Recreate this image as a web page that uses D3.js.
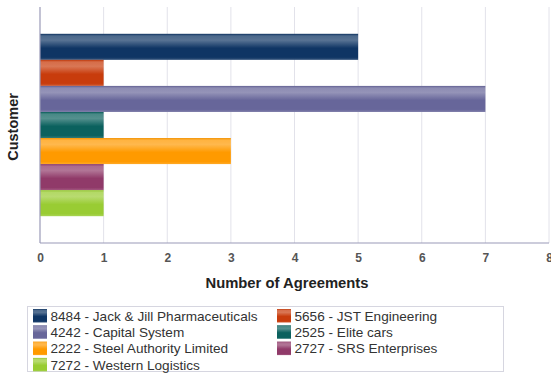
<!DOCTYPE html>
<html><head><meta charset="utf-8">
<script src="https://cdn.jsdelivr.net/npm/d3@7"></script>
<style>body{margin:0;background:#fff}svg{display:block;font-family:"Liberation Sans",Arial,sans-serif}</style>
</head><body>
<svg id="c" width="551" height="373"></svg>
<script>
const customers = ["8484 - Jack & Jill Pharmaceuticals","5656 - JST Engineering","4242 - Capital System","2525 - Elite cars","2222 - Steel Authority Limited","2727 - SRS Enterprises","7272 - Western Logistics"];
const agreements = [5,1,7,1,3,1,1];
const colors = ["#0f3564","#c83c0c","#67669a","#0b615e","#ff9a00","#903a69","#99cc33"];
const xTicks = [0,1,2,3,4,5,6,7,8];

const svg = d3.select("#c");
const m = {l:40, r:549, t:7, b:243};
const x = d3.scaleLinear().domain([0,8]).range([m.l,m.r]);
const band = d3.scaleBand().domain(["all"]).range([m.t,m.b]).paddingInner(0).paddingOuter(0.147);
const y = d3.scaleBand().domain(customers).range([band("all"), band("all")+band.bandwidth()]);

const defs = svg.append("defs");
colors.forEach((c,i)=>{
  const g = defs.append("linearGradient").attr("id","g"+i).attr("x1",0).attr("y1",0).attr("x2",0).attr("y2",1);
  const light = d3.interpolateRgb(c,"#fff");
  g.append("stop").attr("offset","0%").attr("stop-color",d3.interpolateRgb(c,"#000")(0.05));
  g.append("stop").attr("offset","8%").attr("stop-color",light(0.25));
  g.append("stop").attr("offset","25%").attr("stop-color",light(0.3));
  g.append("stop").attr("offset","55%").attr("stop-color",c);
  g.append("stop").attr("offset","90%").attr("stop-color",c);
  g.append("stop").attr("offset","100%").attr("stop-color",light(0.15));
});

// gridlines
svg.append("g").selectAll("line").data(xTicks.slice(1)).join("line")
  .attr("x1",d=>x(d)).attr("x2",d=>x(d)).attr("y1",m.t).attr("y2",m.b)
  .attr("stroke","#e2e2ea").attr("stroke-width",1);

// bars
svg.append("g").selectAll("rect").data(customers).join("rect")
  .attr("x",x(0)).attr("y",d=>y(d)).attr("height",y.bandwidth())
  .attr("width",(d,i)=>x(agreements[i])-x(0))
  .attr("fill",(d,i)=>`url(#g${i})`);

// axes lines
svg.append("line").attr("x1",m.l).attr("x2",m.l).attr("y1",m.t).attr("y2",m.b).attr("stroke","#9a9ab8").attr("stroke-width",1.2);
svg.append("line").attr("x1",m.l).attr("x2",m.r).attr("y1",m.b).attr("y2",m.b).attr("stroke","#9a9ab8").attr("stroke-width",1.2);

const xa = svg.append("g").attr("transform",`translate(0,${m.b})`)
  .call(d3.axisBottom(x).tickValues(xTicks).tickFormat(d3.format("d")).tickSize(0).tickPadding(10));
xa.select(".domain").remove();
xa.selectAll("text").attr("font-size",12).attr("font-weight","bold").attr("fill","#555").attr("font-family","Liberation Sans, Arial, sans-serif");

svg.append("text").attr("x",287).attr("y",288).attr("text-anchor","middle")
  .attr("font-size",14.8).attr("font-weight","bold").attr("fill","#222").text("Number of Agreements");
svg.append("text").attr("transform","translate(18,127) rotate(-90)").attr("text-anchor","middle")
  .attr("font-size",14.5).attr("font-weight","bold").attr("fill","#222").text("Customer");

// legend
const lg = svg.append("g");
lg.append("rect").attr("x",27.5).attr("y",306.5).attr("width",476).attr("height",65).attr("fill","#fff").attr("stroke","#d6d6e0");
const colX = [33,277];
customers.forEach((c,i)=>{
  const col = i%2, row = Math.floor(i/2);
  const yy = 309 + row*16.3;
  lg.append("rect").attr("x",colX[col]).attr("y",yy).attr("width",14).attr("height",13.5).attr("fill",`url(#g${i})`);
  lg.append("text").attr("x",colX[col]+17.5).attr("y",yy+11.7).attr("font-size",13.6).attr("fill","#333").text(c);
});
</script>
</body></html>
